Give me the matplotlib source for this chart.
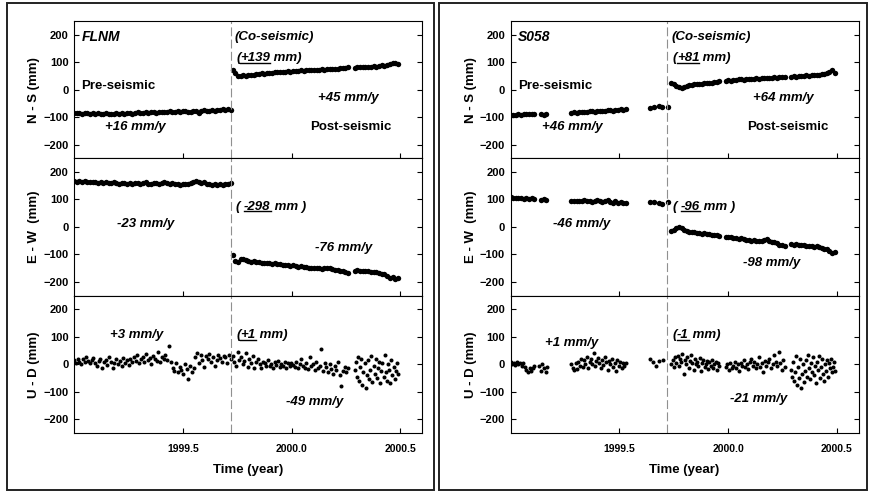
import numpy as np
import matplotlib
matplotlib.use("Agg")
import matplotlib.pyplot as plt
from matplotlib.lines import Line2D
from matplotlib.patches import Rectangle

plt.rcParams['font.family'] = ['Liberation Sans', 'DejaVu Sans']

QUAKE = 1999.72

# ---- FLNM (mm) ----
flnm_ns_pre = [-84, -86, -85, -87, -85, -86, -88, -86, -87, -85,
               -87, -89, -86, -88, -90, -87, -86, -88, -85, -87,
               -86, -84, -87, -85, -83, -86, -84, -82, -85, -83,
               -81, -84, -82, -80, -83, -81, -79, -82, -80, -78,
               -81, -79, -77, -80, -83, -78, -76, -84, -79, -75,
               -78, -76, -74, -77, -73, -75, -72, -74, -71, -73]
flnm_ns_post1 = [72, 60, 48, 50, 52, 49, 53, 55, 54, 57,
                 56, 59, 58, 61, 60, 62, 64, 63, 65, 64,
                 66, 67, 65, 68, 67, 69, 70, 68, 71, 70,
                 72, 71, 73, 72, 74, 73, 75, 74, 76, 77,
                 76, 78, 79, 80, 81]
flnm_ns_post2 = [80, 82, 81, 83, 82, 84, 83, 85, 84, 86, 88, 87, 90, 93, 96, 97, 92]

flnm_ew_pre = [168, 165, 167, 164, 166, 163, 165, 162, 164, 161,
               163, 160, 162, 159, 161, 163, 160, 158, 161, 159,
               157, 160, 158, 161, 159, 157, 160, 162, 158, 156,
               159, 161, 158, 160, 163, 159, 157, 160, 158, 155,
               153, 156, 158, 155, 160, 163, 166, 162, 160, 164,
               158, 155, 152, 156, 153, 157, 154, 158, 156, 160]
flnm_ew_post1 = [-102, -124, -126, -118, -115, -120, -124, -127, -125, -129,
                 -128, -131, -130, -133, -132, -134, -133, -136, -135, -137,
                 -139, -138, -141, -140, -143, -145, -144, -147, -146, -148,
                 -150, -149, -151, -150, -152, -150, -148, -151, -153, -155,
                 -157, -159, -161, -164, -166]
flnm_ew_post2 = [-160, -158, -161, -159, -162, -160, -163, -165, -164, -167,
                 -170, -172, -180, -186, -184, -188, -185]

flnm_ud_pre = [15, 5, 20, 10, 0, 18, 8, 25, 12, 3, 14, 22, 6,
               -5, 12, 20, -12, 8, 15, -3, 25, 10, -15, 5, 18, 0, 12, -8, 22, 6, 14, -2,
               20, 8, 28, 12, 35, 5, 18, 25, 10, 38, 15, 22, 2, 30, 18, 12, 45, 8, 25, 20, 35, 15,
               66,
               10, -15, -25, 5, -30, -10, -20, -35, 0, -18, -53, -8, -28, -12,
               25, 40, 5, 35, 15, -10, 30, 20, 38, 8, 28, -5,
               15, 35, 22, 10, 30, 25, 5, 32, 18]
flnm_ud_post1 = [30, 10, -5, 45, 15, 25, 0, 12, 40, -10, 20, 5, 30, -15, 8, 18,
                 0, -12, 10, 5, -8, 15, -5, 2, -15, 8, -3, 12, -10, 0, -6, 10, -12, 3, -8, 5, -2,
                 -10, 8, -15, 0, 20, -5, -12, 5, -18, 25, -8, 0, -20, 10, -15, -5, 55, -25, 5,
                 -10, -30, 0, -18, -35, -5, -20, 10, -40, -81, -25, -10, -30, -15]
flnm_ud_post2 = [-20, 10, -45, 25, -60, -10, 20, -75, -30, 5, -85, -40, 15, -55, -20, 30,
                 -65, -5, -35, 20, -50, -15, 10, -70, -25, 5, -45, 35, -30, -60, 0, -20,
                 -70, 15, -40, -10, -55, -25, 5, -35]

# ---- S058 (mm) ----
s058_t_late = [1999.643, 1999.658, 1999.681, 1999.697, 1999.722]

s058_ns_pre1 = [-93, -91, -92, -90, -91, -89, -90, -88, -89, -88]
s058_ns_pre2 = [-88, -94, -90]
s058_ns_pre3 = [-84, -83, -85, -81, -82, -80, -81, -79, -78, -80, -77,
                -78, -76, -77, -75, -74, -76, -73, -74, -72, -73, -71]
s058_ns_pre4 = [-67, -64, -61, -63, -65]
s058_ns_post1 = [24, 20, 12, 8, 6, 10, 14, 16, 18, 20, 19, 22, 21, 24, 23, 26, 25, 28, 27, 30]
s058_ns_post2 = [32, 34, 33, 36, 35, 38, 37, 36, 39, 38, 40, 39, 41, 40, 42, 41,
                 43, 44, 43, 45, 44, 46, 47, 46]
s058_ns_post3 = [46, 48, 47, 49, 48, 50, 52, 51, 53, 52, 54, 55, 56, 58, 60, 66, 72, 62]

s058_ew_pre1 = [108, 106, 107, 104, 106, 103, 105, 102, 104, 103]
s058_ew_pre2 = [97, 101, 98]
s058_ew_pre3 = [95, 94, 96, 93, 95, 97, 94, 96, 92, 95, 98,
                93, 90, 94, 97, 91, 89, 93, 88, 91, 86, 89]
s058_ew_pre4 = [92, 91, 86, 83, 90]
s058_ew_post1 = [-14, -10, -5, -2, -4, -10, -15, -17, -19, -20,
                 -22, -21, -24, -23, -26, -25, -28, -30, -29, -32]
s058_ew_post2 = [-35, -37, -36, -39, -41, -43, -42, -45, -47, -48, -50, -49,
                 -51, -50, -52, -48, -44, -50, -54, -56, -60, -64, -66, -70]
s058_ew_post3 = [-62, -64, -63, -66, -65, -67, -68, -70, -69, -72, -71, -74,
                 -76, -80, -82, -88, -94, -92]

s058_ud_pre1 = [8, 2, 5, -2, 10, 0, 6, -5, 3, -10, -20, -28, -12, -25, -15, -8]
s058_ud_pre2 = [-5, -25, 2, -15, -30, -10]
s058_ud_pre3 = [0, -15, -22, 5, -18, 10, -5, 20, -10, 15, 0, 25, -12, 8, 18, 2, 40, -8, 12, 22,
                5, -15, 15, -2, 25, 8, -20, 12, 0, 18, -10, 5, -25, 15, -5, 10, -15, 3, -8, 5]
s058_ud_pre4 = [18, 8, -5, 12, 15]
s058_ud_post1 = [0, 15, -10, 25, 5, 30, -5, 20, 10, 38, -35, 15, 0, 28, -15, 12, 35, 5, -20, 18,
                 0, 10, -8, 22, -25, 5, 15, -10, 2, 12, -18, 8, -5, 15, -12, 0, 10, -20, 5, -8]
s058_ud_post2 = [-10, 0, -20, 5, -15, -5, 10, -12, 0, -25, 5, -8, 15, -10, 2, -18, 8, 20, -5, 10,
                 -15, 0, 25, -10, 5, -30, 12, -5, 8, 20, -15, 0, 35, 10, -8, 45, 5, -20, 15, -10]
s058_ud_post3 = [-20, -45, 10, -60, -30, 30, -75, -10, -50, 20, -85, -35, 0, -65, -25,
                 15, -45, 35, -15, -55, 5, -30, 25, -40, -5, -70, 10, -20, 30, -50,
                 -10, 20, -35, -60, 0, -25, 15, -45, 5, -15, 20, -30, -10, 10, -25]


def span(t0, t1, vals):
    return np.linspace(t0, t1, len(vals)), vals


flnm = {
    'ns': [span(1999.0, 1999.72, flnm_ns_pre), span(1999.73, 2000.26, flnm_ns_post1),
           span(2000.29, 2000.49, flnm_ns_post2)],
    'ew': [span(1999.0, 1999.72, flnm_ew_pre), span(1999.73, 2000.26, flnm_ew_post1),
           span(2000.29, 2000.49, flnm_ew_post2)],
    'ud': [span(1999.0, 1999.72, flnm_ud_pre), span(1999.73, 2000.26, flnm_ud_post1),
           span(2000.29, 2000.49, flnm_ud_post2)],
}
s058 = {
    'ns': [span(1999.0, 1999.11, s058_ns_pre1), span(1999.14, 1999.165, s058_ns_pre2),
           span(1999.28, 1999.53, s058_ns_pre3), (s058_t_late, s058_ns_pre4),
           span(1999.74, 1999.96, s058_ns_post1), span(1999.99, 2000.26, s058_ns_post2),
           span(2000.29, 2000.49, s058_ns_post3)],
    'ew': [span(1999.0, 1999.11, s058_ew_pre1), span(1999.14, 1999.165, s058_ew_pre2),
           span(1999.28, 1999.53, s058_ew_pre3), (s058_t_late, s058_ew_pre4),
           span(1999.74, 1999.96, s058_ew_post1), span(1999.99, 2000.26, s058_ew_post2),
           span(2000.29, 2000.49, s058_ew_post3)],
    'ud': [span(1999.0, 1999.11, s058_ud_pre1), span(1999.13, 1999.17, s058_ud_pre2),
           span(1999.28, 1999.53, s058_ud_pre3), span(1999.64, 1999.70, s058_ud_pre4),
           span(1999.74, 1999.96, s058_ud_post1), span(1999.99, 2000.26, s058_ud_post2),
           span(2000.29, 2000.49, s058_ud_post3)],
}

# text per panel: rates, co-seismic offsets
panels = [
    dict(name='FLNM', data=flnm, left=74,
         co=[('(', '+139', ' mm)', 115), ('( ', '-298', ' mm )', 74), ('(', '+1', ' mm)', 106)],
         rates=[[('+16 mm/y', 1999.143, -135), ('+45 mm/y', 2000.124, -30)],
                [('-23 mm/y', 1999.196, 10), ('-76 mm/y', 2000.109, -75)],
                [('+3 mm/y', 1999.166, 106), ('-49 mm/y', 1999.975, -138)]]),
    dict(name='S058', data=s058, left=510.5,
         co=[('(', '+81', ' mm)', 115), ('( ', '-96', ' mm )', 74), ('(', '-1', ' mm)', 106)],
         rates=[[('+46 mm/y', 1999.143, -135), ('+64 mm/y', 2000.117, -30)],
                [('-46 mm/y', 1999.197, 10), ('-98 mm/y', 2000.07, -130)],
                [('+1 mm/y', 1999.16, 78), ('-21 mm/y', 2000.01, -127)]]),
]

W, H = 869, 493
fig = plt.figure(figsize=(W / 100, H / 100), dpi=100)

# outer frames
for x0, x1 in [(7, 434), (439, 867)]:
    fig.add_artist(Rectangle((x0 / W, 1 - 490 / H), (x1 - x0) / W, 487 / H,
                             transform=fig.transFigure, fill=False, ec='#222222', lw=1.4))

ylabels = ['N - S (mm)', 'E - W  (mm)', 'U - D (mm)']
keys = ['ns', 'ew', 'ud']
ital = dict(fontsize=9.5, fontweight='bold', fontstyle='italic')
underlined = []

for p in panels:
    for i in range(3):
        top = 21 + i * 137.3
        ax = fig.add_axes([p['left'] / W, 1 - (top + 137.3) / H, 348 / W, 137.3 / H])
        for t, v in p['data'][keys[i]]:
            ax.plot(t, v, 'o', color='k', ms=3.9 if i < 2 else 2.9, mec='none')
        ax.axvline(QUAKE, color='#909090', lw=0.8, dashes=(8, 3))
        ax.set_xlim(1999.0, 2000.6)
        ax.set_ylim(-250, 250)
        ax.set_yticks([-200, -100, 0, 100, 200])
        ax.set_xticks([1999.5, 2000.0, 2000.5])
        ax.tick_params(axis='y', direction='in', left=True, right=True, length=3.5,
                       width=0.8, labelsize=8, pad=4)
        ax.tick_params(axis='x', direction='in', length=3.5, width=0.8, labelsize=7.5, pad=8)
        for lab in ax.get_yticklabels() + ax.get_xticklabels():
            lab.set_fontweight('bold')
        for s in ax.spines.values():
            s.set_linewidth(0.8)
        if i < 2:
            ax.tick_params(axis='x', labelbottom=False)
        else:
            ax.set_xticklabels(['1999.5', '2000.0', '2000.5'])
            ax.set_xlabel('Time (year)', fontsize=9.5, fontweight='bold', labelpad=7)
        ax.set_ylabel(ylabels[i], fontsize=9.5, fontweight='bold')
        ax.yaxis.set_label_coords(-0.097, 0.5)

        if i == 0:
            ax.text(1999.035, 190, p['name'], ha='left', va='center', fontsize=10,
                    fontweight='bold', fontstyle='italic')
            ax.text(1999.74, 190, '(Co-seismic)', ha='left', va='center', **ital)
            ax.text(1999.035, 15, 'Pre-seismic', ha='left', va='center', fontsize=9.5,
                    fontweight='bold')
            ax.text(2000.086, -135, 'Post-seismic', ha='left', va='center', fontsize=9.5,
                    fontweight='bold')
        pre, num, post, yy = p['co'][i]
        t1 = ax.text(1999.745, yy, pre, ha='left', va='center', **ital)
        t2 = ax.annotate(num, xy=(1, 0), xycoords=t1, ha='left', va='bottom', **ital)
        ax.annotate(post, xy=(1, 0), xycoords=t2, ha='left', va='bottom', **ital)
        underlined.append(t2)
        for txt, tx, ty in p['rates'][i]:
            ax.text(tx, ty, txt, ha='left', va='center', **ital)

fig.canvas.draw()
inv = fig.transFigure.inverted()
for t in underlined:
    bb = t.get_window_extent()
    (a, b), (c, _) = inv.transform([(bb.x0, bb.y0 + 1.5), (bb.x1, bb.y0 + 1.5)])
    fig.add_artist(Line2D([a, c], [b, b], transform=fig.transFigure, color='k', lw=1.0))

fig.savefig('out.png', dpi=100)
